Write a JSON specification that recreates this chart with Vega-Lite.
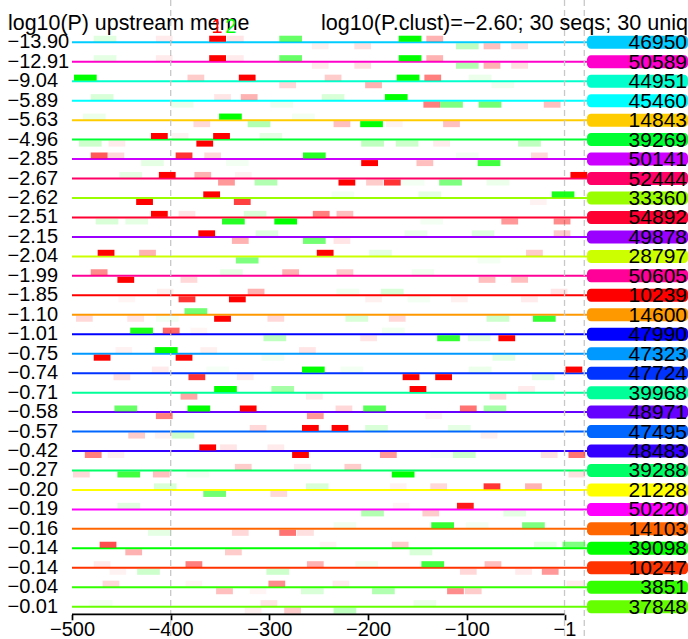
{
  "$schema": "https://vega.github.io/schema/vega-lite/v6.json",
  "width": 688,
  "height": 614.3,
  "padding": {"left": 0, "top": 0, "right": 0, "bottom": 24.7},
  "autosize": {"type": "none"},
  "background": "white",
  "config": {"view": {"stroke": null}, "font": "Liberation Sans", "text": {"font": "Liberation Sans"}},
  "datasets": {
    "seqs": [
      {"row": 1, "id": "46950", "logp": -13.90},
      {"row": 2, "id": "50589", "logp": -12.91},
      {"row": 3, "id": "44951", "logp": -9.04},
      {"row": 4, "id": "45460", "logp": -5.89},
      {"row": 5, "id": "14843", "logp": -5.63},
      {"row": 6, "id": "39269", "logp": -4.96},
      {"row": 7, "id": "50141", "logp": -2.85},
      {"row": 8, "id": "52444", "logp": -2.67},
      {"row": 9, "id": "33360", "logp": -2.62},
      {"row": 10, "id": "54892", "logp": -2.51},
      {"row": 11, "id": "49878", "logp": -2.15},
      {"row": 12, "id": "28797", "logp": -2.04},
      {"row": 13, "id": "50605", "logp": -1.99},
      {"row": 14, "id": "10239", "logp": -1.85},
      {"row": 15, "id": "14600", "logp": -1.10},
      {"row": 16, "id": "47990", "logp": -1.01},
      {"row": 17, "id": "47323", "logp": -0.75},
      {"row": 18, "id": "47724", "logp": -0.74},
      {"row": 19, "id": "39968", "logp": -0.71},
      {"row": 20, "id": "48971", "logp": -0.58},
      {"row": 21, "id": "47495", "logp": -0.57},
      {"row": 22, "id": "48483", "logp": -0.42},
      {"row": 23, "id": "39288", "logp": -0.27},
      {"row": 24, "id": "21228", "logp": -0.20},
      {"row": 25, "id": "50220", "logp": -0.19},
      {"row": 26, "id": "14103", "logp": -0.16},
      {"row": 27, "id": "39098", "logp": -0.14},
      {"row": 28, "id": "10247", "logp": -0.14},
      {"row": 29, "id": "3851", "logp": -0.04},
      {"row": 30, "id": "37848", "logp": -0.01}
    ],
    "guides": [{"pos": -400}, {"pos": -1}, {"pos": 19}],
    "motifs": [{"motif": "1", "pos": -353}, {"motif": "2", "pos": -339}],
    "sites": [
      {"row":1,"motif":"2","strand":"+","start":-478,"end":-455,"score":0.12},
      {"row":1,"motif":"1","strand":"+","start":-415,"end":-398,"score":0.08},
      {"row":1,"motif":"1","strand":"+","start":-361,"end":-344,"score":1},
      {"row":1,"motif":"1","strand":"+","start":-343,"end":-326,"score":0.1},
      {"row":1,"motif":"2","strand":"+","start":-290,"end":-267,"score":0.6},
      {"row":1,"motif":"1","strand":"-","start":-257,"end":-240,"score":0.06},
      {"row":1,"motif":"2","strand":"+","start":-169,"end":-146,"score":1},
      {"row":1,"motif":"1","strand":"+","start":-141,"end":-124,"score":0.3},
      {"row":1,"motif":"1","strand":"-","start":-214,"end":-197,"score":0.12},
      {"row":1,"motif":"2","strand":"-","start":-111,"end":-88,"score":0.25},
      {"row":1,"motif":"1","strand":"-","start":-83,"end":-66,"score":0.25},
      {"row":1,"motif":"1","strand":"-","start":-55,"end":-38,"score":0.12},
      {"row":2,"motif":"2","strand":"+","start":-478,"end":-455,"score":0.1},
      {"row":2,"motif":"1","strand":"+","start":-415,"end":-398,"score":0.08},
      {"row":2,"motif":"1","strand":"+","start":-361,"end":-344,"score":1},
      {"row":2,"motif":"1","strand":"+","start":-343,"end":-326,"score":0.08},
      {"row":2,"motif":"2","strand":"+","start":-290,"end":-267,"score":0.6},
      {"row":2,"motif":"1","strand":"-","start":-257,"end":-240,"score":0.08},
      {"row":2,"motif":"2","strand":"+","start":-169,"end":-146,"score":1},
      {"row":2,"motif":"1","strand":"+","start":-141,"end":-124,"score":0.3},
      {"row":2,"motif":"1","strand":"-","start":-214,"end":-197,"score":0.12},
      {"row":2,"motif":"2","strand":"-","start":-111,"end":-88,"score":0.3},
      {"row":2,"motif":"1","strand":"-","start":-83,"end":-66,"score":0.3},
      {"row":2,"motif":"1","strand":"-","start":-55,"end":-38,"score":0.12},
      {"row":3,"motif":"2","strand":"+","start":-498,"end":-475,"score":1},
      {"row":3,"motif":"1","strand":"+","start":-383,"end":-366,"score":0.2},
      {"row":3,"motif":"1","strand":"+","start":-331,"end":-314,"score":1},
      {"row":3,"motif":"1","strand":"-","start":-290,"end":-273,"score":0.15},
      {"row":3,"motif":"1","strand":"+","start":-244,"end":-227,"score":0.2},
      {"row":3,"motif":"2","strand":"+","start":-171,"end":-148,"score":1},
      {"row":3,"motif":"1","strand":"+","start":-143,"end":-126,"score":0.5},
      {"row":3,"motif":"2","strand":"+","start":-98,"end":-75,"score":0.08},
      {"row":3,"motif":"1","strand":"-","start":-203,"end":-186,"score":0.3},
      {"row":3,"motif":"2","strand":"-","start":-75,"end":-52,"score":0.06},
      {"row":4,"motif":"2","strand":"+","start":-481,"end":-458,"score":0.15},
      {"row":4,"motif":"1","strand":"+","start":-356,"end":-339,"score":0.1},
      {"row":4,"motif":"1","strand":"+","start":-329,"end":-312,"score":0.3},
      {"row":4,"motif":"2","strand":"+","start":-247,"end":-224,"score":0.15},
      {"row":4,"motif":"2","strand":"-","start":-400,"end":-377,"score":0.08},
      {"row":4,"motif":"2","strand":"-","start":-299,"end":-276,"score":0.06},
      {"row":4,"motif":"2","strand":"+","start":-183,"end":-160,"score":1},
      {"row":4,"motif":"1","strand":"-","start":-144,"end":-127,"score":0.5},
      {"row":4,"motif":"2","strand":"-","start":-127,"end":-104,"score":0.5},
      {"row":4,"motif":"2","strand":"-","start":-88,"end":-65,"score":0.55},
      {"row":4,"motif":"1","strand":"-","start":-22,"end":-5,"score":0.25},
      {"row":5,"motif":"2","strand":"+","start":-489,"end":-466,"score":0.08},
      {"row":5,"motif":"2","strand":"+","start":-351,"end":-328,"score":1},
      {"row":5,"motif":"2","strand":"+","start":-277,"end":-254,"score":0.05},
      {"row":5,"motif":"1","strand":"-","start":-377,"end":-360,"score":0.15},
      {"row":5,"motif":"2","strand":"-","start":-322,"end":-299,"score":0.3},
      {"row":5,"motif":"1","strand":"-","start":-235,"end":-218,"score":0.25},
      {"row":5,"motif":"2","strand":"-","start":-208,"end":-185,"score":1},
      {"row":5,"motif":"1","strand":"-","start":-182,"end":-165,"score":0.05},
      {"row":5,"motif":"1","strand":"-","start":-124,"end":-107,"score":0.25},
      {"row":6,"motif":"1","strand":"+","start":-420,"end":-403,"score":1},
      {"row":6,"motif":"1","strand":"+","start":-399,"end":-382,"score":0.05},
      {"row":6,"motif":"1","strand":"+","start":-357,"end":-340,"score":1},
      {"row":6,"motif":"2","strand":"+","start":-310,"end":-287,"score":0.1},
      {"row":6,"motif":"2","strand":"-","start":-493,"end":-470,"score":0.2},
      {"row":6,"motif":"1","strand":"-","start":-463,"end":-446,"score":0.08},
      {"row":6,"motif":"1","strand":"-","start":-374,"end":-357,"score":1},
      {"row":6,"motif":"2","strand":"-","start":-207,"end":-184,"score":0.25},
      {"row":6,"motif":"2","strand":"-","start":-172,"end":-149,"score":0.2},
      {"row":6,"motif":"1","strand":"-","start":-134,"end":-117,"score":0.08},
      {"row":6,"motif":"2","strand":"-","start":-48,"end":-25,"score":0.25},
      {"row":7,"motif":"1","strand":"+","start":-481,"end":-464,"score":0.65},
      {"row":7,"motif":"1","strand":"+","start":-464,"end":-447,"score":0.15},
      {"row":7,"motif":"1","strand":"+","start":-395,"end":-378,"score":0.8},
      {"row":7,"motif":"1","strand":"+","start":-366,"end":-349,"score":0.15},
      {"row":7,"motif":"2","strand":"+","start":-266,"end":-243,"score":0.85},
      {"row":7,"motif":"2","strand":"-","start":-430,"end":-407,"score":0.1},
      {"row":7,"motif":"2","strand":"-","start":-344,"end":-321,"score":0.05},
      {"row":7,"motif":"1","strand":"-","start":-207,"end":-190,"score":1},
      {"row":7,"motif":"1","strand":"-","start":-151,"end":-134,"score":0.25},
      {"row":7,"motif":"2","strand":"-","start":-89,"end":-66,"score":0.75},
      {"row":7,"motif":"2","strand":"+","start":-111,"end":-88,"score":0.05},
      {"row":7,"motif":"1","strand":"+","start":-35,"end":-18,"score":0.15},
      {"row":8,"motif":"2","strand":"+","start":-452,"end":-429,"score":0.1},
      {"row":8,"motif":"1","strand":"+","start":-412,"end":-395,"score":1},
      {"row":8,"motif":"1","strand":"+","start":-376,"end":-359,"score":0.3},
      {"row":8,"motif":"1","strand":"+","start":-335,"end":-318,"score":0.05},
      {"row":8,"motif":"1","strand":"-","start":-352,"end":-335,"score":0.4},
      {"row":8,"motif":"2","strand":"-","start":-315,"end":-292,"score":0.3},
      {"row":8,"motif":"1","strand":"-","start":-230,"end":-213,"score":1},
      {"row":8,"motif":"1","strand":"+","start":5,"end":22,"score":1},
      {"row":8,"motif":"1","strand":"-","start":-202,"end":-185,"score":0.2},
      {"row":8,"motif":"1","strand":"-","start":-184,"end":-167,"score":0.8},
      {"row":8,"motif":"2","strand":"-","start":-166,"end":-143,"score":0.05},
      {"row":8,"motif":"2","strand":"-","start":-128,"end":-105,"score":0.5},
      {"row":8,"motif":"2","strand":"-","start":-80,"end":-57,"score":0.08},
      {"row":9,"motif":"1","strand":"+","start":-367,"end":-350,"score":1},
      {"row":9,"motif":"1","strand":"-","start":-435,"end":-418,"score":1},
      {"row":9,"motif":"1","strand":"-","start":-336,"end":-319,"score":0.75},
      {"row":9,"motif":"2","strand":"+","start":-237,"end":-214,"score":0.05},
      {"row":9,"motif":"2","strand":"+","start":-149,"end":-126,"score":0.1},
      {"row":9,"motif":"2","strand":"+","start":-14,"end":9,"score":0.9},
      {"row":9,"motif":"1","strand":"-","start":-36,"end":-19,"score":0.05},
      {"row":10,"motif":"1","strand":"+","start":-420,"end":-403,"score":1},
      {"row":10,"motif":"1","strand":"+","start":-392,"end":-375,"score":0.1},
      {"row":10,"motif":"2","strand":"+","start":-326,"end":-303,"score":0.15},
      {"row":10,"motif":"1","strand":"+","start":-256,"end":-239,"score":0.5},
      {"row":10,"motif":"1","strand":"+","start":-232,"end":-215,"score":0.25},
      {"row":10,"motif":"2","strand":"-","start":-476,"end":-453,"score":0.15},
      {"row":10,"motif":"2","strand":"-","start":-446,"end":-423,"score":0.1},
      {"row":10,"motif":"2","strand":"-","start":-348,"end":-325,"score":0.85},
      {"row":10,"motif":"2","strand":"-","start":-295,"end":-272,"score":1},
      {"row":10,"motif":"2","strand":"-","start":-147,"end":-124,"score":0.05},
      {"row":10,"motif":"1","strand":"-","start":-65,"end":-48,"score":0.4},
      {"row":10,"motif":"1","strand":"-","start":-12,"end":5,"score":0.45},
      {"row":11,"motif":"1","strand":"+","start":-372,"end":-355,"score":1},
      {"row":11,"motif":"2","strand":"+","start":-314,"end":-291,"score":0.12},
      {"row":11,"motif":"1","strand":"-","start":-338,"end":-321,"score":0.3},
      {"row":11,"motif":"2","strand":"-","start":-266,"end":-243,"score":0.55},
      {"row":11,"motif":"1","strand":"-","start":-235,"end":-218,"score":0.1},
      {"row":11,"motif":"2","strand":"+","start":-163,"end":-140,"score":0.08},
      {"row":11,"motif":"2","strand":"+","start":-95,"end":-72,"score":0.12},
      {"row":11,"motif":"1","strand":"+","start":-12,"end":5,"score":0.2},
      {"row":12,"motif":"1","strand":"+","start":-474,"end":-457,"score":1},
      {"row":12,"motif":"1","strand":"+","start":-432,"end":-415,"score":0.3},
      {"row":12,"motif":"2","strand":"-","start":-334,"end":-311,"score":0.5},
      {"row":12,"motif":"1","strand":"+","start":-252,"end":-235,"score":1},
      {"row":12,"motif":"2","strand":"+","start":-199,"end":-176,"score":0.1},
      {"row":12,"motif":"2","strand":"-","start":-89,"end":-66,"score":0.05},
      {"row":12,"motif":"1","strand":"+","start":-40,"end":-23,"score":0.2},
      {"row":13,"motif":"1","strand":"+","start":-481,"end":-464,"score":0.45},
      {"row":13,"motif":"1","strand":"-","start":-454,"end":-437,"score":1},
      {"row":13,"motif":"1","strand":"-","start":-390,"end":-373,"score":0.15},
      {"row":13,"motif":"2","strand":"+","start":-350,"end":-327,"score":0.1},
      {"row":13,"motif":"1","strand":"+","start":-287,"end":-270,"score":0.3},
      {"row":13,"motif":"1","strand":"+","start":-232,"end":-215,"score":0.2},
      {"row":13,"motif":"2","strand":"+","start":-156,"end":-133,"score":0.06},
      {"row":13,"motif":"1","strand":"-","start":-88,"end":-71,"score":0.25},
      {"row":13,"motif":"1","strand":"-","start":-55,"end":-38,"score":0.25},
      {"row":14,"motif":"1","strand":"+","start":-414,"end":-397,"score":0.06},
      {"row":14,"motif":"1","strand":"-","start":-392,"end":-375,"score":0.8},
      {"row":14,"motif":"1","strand":"-","start":-341,"end":-324,"score":1},
      {"row":14,"motif":"1","strand":"+","start":-322,"end":-305,"score":0.3},
      {"row":14,"motif":"1","strand":"-","start":-453,"end":-436,"score":0.04},
      {"row":14,"motif":"2","strand":"+","start":-232,"end":-209,"score":0.06},
      {"row":14,"motif":"2","strand":"+","start":-187,"end":-164,"score":0.15},
      {"row":14,"motif":"1","strand":"-","start":-203,"end":-186,"score":0.06},
      {"row":14,"motif":"2","strand":"-","start":-160,"end":-137,"score":0.05},
      {"row":14,"motif":"1","strand":"-","start":-116,"end":-99,"score":0.06},
      {"row":14,"motif":"1","strand":"+","start":-15,"end":2,"score":0.1},
      {"row":14,"motif":"1","strand":"-","start":-45,"end":-28,"score":0.08},
      {"row":15,"motif":"2","strand":"+","start":-386,"end":-363,"score":0.55},
      {"row":15,"motif":"1","strand":"-","start":-496,"end":-479,"score":0.15},
      {"row":15,"motif":"1","strand":"-","start":-444,"end":-427,"score":0.1},
      {"row":15,"motif":"2","strand":"-","start":-415,"end":-392,"score":0.05},
      {"row":15,"motif":"1","strand":"-","start":-356,"end":-339,"score":1},
      {"row":15,"motif":"1","strand":"-","start":-302,"end":-285,"score":0.15},
      {"row":15,"motif":"2","strand":"-","start":-223,"end":-200,"score":0.15},
      {"row":15,"motif":"1","strand":"-","start":-179,"end":-162,"score":0.15},
      {"row":15,"motif":"2","strand":"-","start":-80,"end":-57,"score":0.2},
      {"row":15,"motif":"2","strand":"-","start":-33,"end":-10,"score":0.8},
      {"row":16,"motif":"2","strand":"+","start":-441,"end":-418,"score":0.9},
      {"row":16,"motif":"1","strand":"+","start":-408,"end":-391,"score":0.6},
      {"row":16,"motif":"1","strand":"+","start":-380,"end":-363,"score":0.04},
      {"row":16,"motif":"2","strand":"-","start":-306,"end":-283,"score":0.25},
      {"row":16,"motif":"2","strand":"+","start":-186,"end":-163,"score":0.06},
      {"row":16,"motif":"1","strand":"-","start":-208,"end":-191,"score":0.1},
      {"row":16,"motif":"2","strand":"-","start":-130,"end":-107,"score":0.8},
      {"row":16,"motif":"2","strand":"-","start":-99,"end":-76,"score":0.1},
      {"row":16,"motif":"1","strand":"-","start":-68,"end":-51,"score":1},
      {"row":17,"motif":"1","strand":"+","start":-456,"end":-439,"score":0.05},
      {"row":17,"motif":"2","strand":"+","start":-416,"end":-393,"score":1},
      {"row":17,"motif":"1","strand":"+","start":-370,"end":-353,"score":0.06},
      {"row":17,"motif":"1","strand":"+","start":-270,"end":-253,"score":0.1},
      {"row":17,"motif":"1","strand":"-","start":-478,"end":-461,"score":1},
      {"row":17,"motif":"1","strand":"-","start":-395,"end":-378,"score":1},
      {"row":17,"motif":"2","strand":"-","start":-308,"end":-285,"score":0.05},
      {"row":17,"motif":"2","strand":"-","start":-74,"end":-51,"score":0.1},
      {"row":18,"motif":"1","strand":"+","start":-419,"end":-402,"score":0.08},
      {"row":18,"motif":"2","strand":"+","start":-364,"end":-341,"score":0.04},
      {"row":18,"motif":"2","strand":"+","start":-267,"end":-244,"score":1},
      {"row":18,"motif":"2","strand":"+","start":-228,"end":-205,"score":0.05},
      {"row":18,"motif":"1","strand":"-","start":-458,"end":-441,"score":0.12},
      {"row":18,"motif":"1","strand":"-","start":-382,"end":-365,"score":0.8},
      {"row":18,"motif":"1","strand":"-","start":-333,"end":-316,"score":0.08},
      {"row":18,"motif":"2","strand":"+","start":-98,"end":-75,"score":0.08},
      {"row":18,"motif":"1","strand":"+","start":0,"end":17,"score":1},
      {"row":18,"motif":"1","strand":"-","start":-165,"end":-148,"score":1},
      {"row":18,"motif":"1","strand":"-","start":-132,"end":-115,"score":1},
      {"row":18,"motif":"2","strand":"-","start":-34,"end":-11,"score":0.1},
      {"row":19,"motif":"2","strand":"+","start":-356,"end":-333,"score":1},
      {"row":19,"motif":"2","strand":"+","start":-298,"end":-275,"score":0.35},
      {"row":19,"motif":"1","strand":"-","start":-390,"end":-373,"score":0.35},
      {"row":19,"motif":"1","strand":"-","start":-263,"end":-246,"score":0.08},
      {"row":19,"motif":"1","strand":"+","start":-158,"end":-141,"score":1},
      {"row":19,"motif":"1","strand":"+","start":-48,"end":-31,"score":0.08},
      {"row":19,"motif":"1","strand":"-","start":-77,"end":-60,"score":0.15},
      {"row":20,"motif":"2","strand":"+","start":-457,"end":-434,"score":0.6},
      {"row":20,"motif":"2","strand":"+","start":-383,"end":-360,"score":1},
      {"row":20,"motif":"1","strand":"+","start":-330,"end":-313,"score":1},
      {"row":20,"motif":"1","strand":"+","start":-233,"end":-216,"score":0.15},
      {"row":20,"motif":"1","strand":"-","start":-415,"end":-398,"score":0.5},
      {"row":20,"motif":"1","strand":"-","start":-262,"end":-245,"score":0.4},
      {"row":20,"motif":"2","strand":"+","start":-205,"end":-182,"score":0.65},
      {"row":20,"motif":"1","strand":"+","start":-107,"end":-90,"score":0.55},
      {"row":20,"motif":"2","strand":"+","start":-83,"end":-60,"score":0.35},
      {"row":20,"motif":"1","strand":"-","start":-142,"end":-125,"score":0.05},
      {"row":21,"motif":"1","strand":"+","start":-320,"end":-303,"score":0.15},
      {"row":21,"motif":"1","strand":"+","start":-267,"end":-250,"score":1},
      {"row":21,"motif":"1","strand":"+","start":-237,"end":-220,"score":1},
      {"row":21,"motif":"1","strand":"-","start":-443,"end":-426,"score":0.2},
      {"row":21,"motif":"1","strand":"-","start":-416,"end":-399,"score":0.05},
      {"row":21,"motif":"2","strand":"-","start":-399,"end":-376,"score":0.2},
      {"row":21,"motif":"2","strand":"+","start":-203,"end":-180,"score":0.15},
      {"row":21,"motif":"2","strand":"+","start":-119,"end":-96,"score":0.1},
      {"row":21,"motif":"1","strand":"-","start":-86,"end":-69,"score":0.06},
      {"row":22,"motif":"1","strand":"+","start":-371,"end":-354,"score":1},
      {"row":22,"motif":"1","strand":"+","start":-350,"end":-333,"score":0.1},
      {"row":22,"motif":"1","strand":"+","start":-302,"end":-285,"score":0.08},
      {"row":22,"motif":"1","strand":"-","start":-487,"end":-470,"score":0.5},
      {"row":22,"motif":"1","strand":"-","start":-464,"end":-447,"score":0.06},
      {"row":22,"motif":"1","strand":"-","start":-277,"end":-260,"score":1},
      {"row":22,"motif":"1","strand":"-","start":-188,"end":-171,"score":0.4},
      {"row":22,"motif":"2","strand":"-","start":-137,"end":-114,"score":0.04},
      {"row":22,"motif":"2","strand":"-","start":-114,"end":-91,"score":0.2},
      {"row":22,"motif":"1","strand":"-","start":-25,"end":-8,"score":0.12},
      {"row":22,"motif":"1","strand":"-","start":3,"end":20,"score":0.55},
      {"row":23,"motif":"1","strand":"+","start":-335,"end":-318,"score":0.2},
      {"row":23,"motif":"1","strand":"+","start":-275,"end":-258,"score":0.08},
      {"row":23,"motif":"1","strand":"-","start":-499,"end":-482,"score":0.15},
      {"row":23,"motif":"2","strand":"-","start":-454,"end":-431,"score":0.75},
      {"row":23,"motif":"1","strand":"-","start":-418,"end":-401,"score":0.25},
      {"row":23,"motif":"2","strand":"-","start":-384,"end":-361,"score":0.05},
      {"row":23,"motif":"1","strand":"+","start":-224,"end":-207,"score":0.2},
      {"row":23,"motif":"2","strand":"-","start":-176,"end":-153,"score":1},
      {"row":23,"motif":"1","strand":"-","start":3,"end":20,"score":0.12},
      {"row":24,"motif":"2","strand":"+","start":-417,"end":-394,"score":0.15},
      {"row":24,"motif":"2","strand":"+","start":-263,"end":-240,"score":0.15},
      {"row":24,"motif":"2","strand":"-","start":-367,"end":-344,"score":0.55},
      {"row":24,"motif":"1","strand":"-","start":-299,"end":-282,"score":0.15},
      {"row":24,"motif":"1","strand":"+","start":-178,"end":-161,"score":0.05},
      {"row":24,"motif":"1","strand":"+","start":-137,"end":-120,"score":0.15},
      {"row":24,"motif":"1","strand":"+","start":-83,"end":-66,"score":0.8},
      {"row":24,"motif":"1","strand":"+","start":-41,"end":-24,"score":0.3},
      {"row":25,"motif":"2","strand":"+","start":-454,"end":-431,"score":0.12},
      {"row":25,"motif":"1","strand":"+","start":-175,"end":-158,"score":0.04},
      {"row":25,"motif":"1","strand":"+","start":-110,"end":-93,"score":0.9},
      {"row":25,"motif":"2","strand":"-","start":-207,"end":-184,"score":0.3},
      {"row":25,"motif":"1","strand":"-","start":-145,"end":-128,"score":0.2},
      {"row":25,"motif":"2","strand":"-","start":-63,"end":-40,"score":0.1},
      {"row":26,"motif":"2","strand":"-","start":-423,"end":-400,"score":0.1},
      {"row":26,"motif":"1","strand":"-","start":-338,"end":-321,"score":0.15},
      {"row":26,"motif":"1","strand":"-","start":-290,"end":-273,"score":0.55},
      {"row":26,"motif":"1","strand":"-","start":-272,"end":-255,"score":0.12},
      {"row":26,"motif":"2","strand":"+","start":-235,"end":-212,"score":0.06},
      {"row":26,"motif":"2","strand":"+","start":-101,"end":-78,"score":0.05},
      {"row":26,"motif":"2","strand":"+","start":-136,"end":-113,"score":0.8},
      {"row":26,"motif":"2","strand":"+","start":-44,"end":-21,"score":0.5},
      {"row":27,"motif":"1","strand":"+","start":-472,"end":-455,"score":0.7},
      {"row":27,"motif":"1","strand":"+","start":-249,"end":-232,"score":0.05},
      {"row":27,"motif":"1","strand":"-","start":-446,"end":-429,"score":0.3},
      {"row":27,"motif":"1","strand":"-","start":-345,"end":-328,"score":0.2},
      {"row":27,"motif":"1","strand":"+","start":-176,"end":-159,"score":0.2},
      {"row":27,"motif":"2","strand":"+","start":-32,"end":-9,"score":0.1},
      {"row":27,"motif":"2","strand":"+","start":-3,"end":20,"score":0.5},
      {"row":27,"motif":"2","strand":"-","start":-158,"end":-135,"score":0.15},
      {"row":28,"motif":"1","strand":"+","start":-478,"end":-461,"score":0.08},
      {"row":28,"motif":"1","strand":"+","start":-385,"end":-368,"score":0.5},
      {"row":28,"motif":"1","strand":"+","start":-262,"end":-245,"score":0.3},
      {"row":28,"motif":"1","strand":"-","start":-462,"end":-445,"score":0.05},
      {"row":28,"motif":"2","strand":"-","start":-434,"end":-411,"score":0.2},
      {"row":28,"motif":"2","strand":"-","start":-303,"end":-280,"score":0.2},
      {"row":28,"motif":"2","strand":"+","start":-213,"end":-190,"score":0.06},
      {"row":28,"motif":"2","strand":"+","start":-146,"end":-123,"score":0.75},
      {"row":28,"motif":"1","strand":"+","start":-82,"end":-65,"score":0.25},
      {"row":28,"motif":"1","strand":"-","start":-107,"end":-90,"score":0.15},
      {"row":28,"motif":"1","strand":"-","start":-51,"end":-34,"score":0.08},
      {"row":28,"motif":"1","strand":"-","start":-24,"end":-7,"score":0.4},
      {"row":29,"motif":"1","strand":"+","start":-469,"end":-452,"score":0.15},
      {"row":29,"motif":"1","strand":"+","start":-385,"end":-368,"score":0.04},
      {"row":29,"motif":"1","strand":"+","start":-301,"end":-284,"score":0.45},
      {"row":29,"motif":"1","strand":"+","start":-236,"end":-219,"score":0.08},
      {"row":29,"motif":"1","strand":"-","start":-354,"end":-337,"score":0.25},
      {"row":29,"motif":"1","strand":"-","start":-320,"end":-303,"score":0.04},
      {"row":29,"motif":"2","strand":"-","start":-268,"end":-245,"score":0.15},
      {"row":29,"motif":"1","strand":"+","start":1,"end":18,"score":0.08},
      {"row":29,"motif":"2","strand":"-","start":-196,"end":-173,"score":0.3},
      {"row":29,"motif":"1","strand":"-","start":-120,"end":-103,"score":0.45},
      {"row":29,"motif":"1","strand":"-","start":-102,"end":-85,"score":0.2},
      {"row":30,"motif":"2","strand":"+","start":-482,"end":-459,"score":0.05},
      {"row":30,"motif":"1","strand":"+","start":-309,"end":-292,"score":0.1},
      {"row":30,"motif":"1","strand":"-","start":-325,"end":-308,"score":0.06},
      {"row":30,"motif":"1","strand":"-","start":-285,"end":-268,"score":0.2},
      {"row":30,"motif":"2","strand":"-","start":-235,"end":-212,"score":0.25},
      {"row":30,"motif":"2","strand":"+","start":-154,"end":-131,"score":0.08}
    ]
  },
  "resolve": {"scale": {"color": "independent"}},
  "layer": [
    {
      "data": {"name": "seqs"},
      "mark": {"type": "rule", "strokeWidth": 2},
      "encoding": {
        "x": {"datum": -500, "type": "quantitative", "title": null,
          "scale": {"domain": [-572.95, 124.1], "nice": false, "zero": false, "padding": 0},
          "axis": {
            "values": [-500, -400, -300, -200, -100, -1], "domain": false, "grid": false, "title": null,
            "tickSize": 5.5, "tickWidth": 1.7, "tickColor": "black",
            "labelFontSize": 20, "labelFont": "Liberation Sans", "labelColor": "black", "labelPadding": 0,
            "labelFlush": false, "labelOverlap": false}},
        "x2": {"datum": 21.8},
        "y": {"field": "row", "type": "quantitative", "scale": {"domain": [-1.174, 30.39], "reverse": true, "nice": false, "zero": false, "padding": 0}, "axis": null},
        "color": {"field": "id", "type": "nominal", "legend": null, "scale": {
          "domain": ["46950","50589","44951","45460","14843","39269","50141","52444","33360","54892","49878","28797","50605","10239","14600","47990","47323","47724","39968","48971","47495","48483","39288","21228","50220","14103","39098","10247","3851","37848"],
          "range": ["#00CCFF","#FF00CC","#00FFCC","#00FFFF","#FFCC00","#00FF33","#CC00FF","#FF0066","#99FF00","#FF0033","#9900FF","#CCFF00","#FF0099","#FF0000","#FF9900","#0000FF","#0099FF","#0033FF","#00FF99","#6600FF","#0066FF","#3300FF","#00FF66","#FFFF00","#FF00FF","#FF6600","#00FF00","#FF3300","#33FF00","#66FF00"]}}
      }
    },
    {
      "data": {"name": "guides"},
      "mark": {"type": "rule", "color": "#C8C8C8", "strokeWidth": 1.3, "strokeDash": [6, 4]},
      "encoding": {
        "x": {"field": "pos", "type": "quantitative", "title": null},
        "y": {"datum": -1.174, "type": "quantitative", "axis": null},
        "y2": {"datum": 31.66}
      }
    },
    {
      "data": {"name": "sites"},
      "transform": [{"filter": "datum.strand === '+'"}],
      "mark": {"type": "bar", "height": 6, "yOffset": -3.6},
      "encoding": {
        "x": {"field": "start", "type": "quantitative", "title": null},
        "x2": {"field": "end"},
        "y": {"field": "row", "type": "quantitative", "axis": null},
        "color": {"field": "motif", "type": "nominal", "legend": null, "scale": {"domain": ["1", "2"], "range": ["#FF0000", "#00FF00"]}},
        "opacity": {"field": "score", "type": "quantitative", "legend": null, "scale": {"type": "linear", "domain": [0, 1], "range": [0, 1]}}
      }
    },
    {
      "data": {"name": "sites"},
      "transform": [{"filter": "datum.strand === '-'"}],
      "mark": {"type": "bar", "height": 6, "yOffset": 4},
      "encoding": {
        "x": {"field": "start", "type": "quantitative", "title": null},
        "x2": {"field": "end"},
        "y": {"field": "row", "type": "quantitative", "axis": null},
        "color": {"field": "motif", "type": "nominal", "legend": null, "scale": {"domain": ["1", "2"], "range": ["#FF0000", "#00FF00"]}},
        "opacity": {"field": "score", "type": "quantitative", "legend": null, "scale": {"type": "linear", "domain": [0, 1], "range": [0, 1]}}
      }
    },
    {
      "data": {"values": [{}]},
      "mark": {"type": "rule", "color": "black", "strokeWidth": 1.7},
      "encoding": {
        "x": {"datum": -500, "type": "quantitative", "title": null},
        "x2": {"datum": -1},
        "y": {"datum": 30.39, "type": "quantitative", "axis": null}
      }
    },
    {
      "data": {"name": "seqs"},
      "mark": {"type": "bar", "height": 13, "cornerRadius": 4},
      "encoding": {
        "x": {"datum": 21.8, "type": "quantitative", "title": null},
        "x2": {"datum": 124.1},
        "y": {"field": "row", "type": "quantitative", "axis": null},
        "color": {"field": "id", "type": "nominal", "legend": null, "scale": {
          "domain": ["46950","50589","44951","45460","14843","39269","50141","52444","33360","54892","49878","28797","50605","10239","14600","47990","47323","47724","39968","48971","47495","48483","39288","21228","50220","14103","39098","10247","3851","37848"],
          "range": ["#00CCFF","#FF00CC","#00FFCC","#00FFFF","#FFCC00","#00FF33","#CC00FF","#FF0066","#99FF00","#FF0033","#9900FF","#CCFF00","#FF0099","#FF0000","#FF9900","#0000FF","#0099FF","#0033FF","#00FF99","#6600FF","#0066FF","#3300FF","#00FF66","#FFFF00","#FF00FF","#FF6600","#00FF00","#FF3300","#33FF00","#66FF00"]}}
      }
    },
    {
      "data": {"name": "seqs"},
      "mark": {"type": "text", "align": "right", "baseline": "middle", "fontSize": 21, "dx": -1, "dy": 1, "color": "black"},
      "encoding": {
        "x": {"datum": 124.1, "type": "quantitative", "title": null},
        "y": {"field": "row", "type": "quantitative", "axis": null},
        "text": {"field": "id", "type": "nominal"}
      }
    },
    {
      "data": {"name": "seqs"},
      "mark": {"type": "text", "align": "left", "baseline": "middle", "fontSize": 20, "color": "black"},
      "encoding": {
        "x": {"datum": -565.4, "type": "quantitative", "title": null},
        "y": {"field": "row", "type": "quantitative", "axis": null},
        "text": {"field": "logp", "type": "quantitative", "format": ".2f"}
      }
    },
    {
      "data": {"values": [{}]},
      "mark": {"type": "text", "align": "left", "baseline": "alphabetic", "fontSize": 21.4, "color": "black", "text": "log10(P) upstream meme"},
      "encoding": {
        "x": {"datum": -564.8, "type": "quantitative", "title": null},
        "y": {"datum": 0.368, "type": "quantitative", "axis": null}
      }
    },
    {
      "data": {"values": [{}]},
      "mark": {"type": "text", "align": "right", "baseline": "alphabetic", "fontSize": 21.6, "color": "black", "text": "log10(P.clust)=\u22122.60; 30 seqs; 30 uniq"},
      "encoding": {
        "x": {"datum": 124.1, "type": "quantitative", "title": null},
        "y": {"datum": 0.368, "type": "quantitative", "axis": null}
      }
    },
    {
      "data": {"name": "motifs"},
      "mark": {"type": "text", "align": "center", "baseline": "alphabetic", "fontSize": 20, "font": "Liberation Sans"},
      "encoding": {
        "x": {"field": "pos", "type": "quantitative", "title": null},
        "y": {"datum": 0.507, "type": "quantitative", "axis": null},
        "text": {"field": "motif", "type": "nominal"},
        "color": {"field": "motif", "type": "nominal", "legend": null, "scale": {"domain": ["1", "2"], "range": ["#FF0000", "#00FF00"]}}
      }
    }
  ]
}
